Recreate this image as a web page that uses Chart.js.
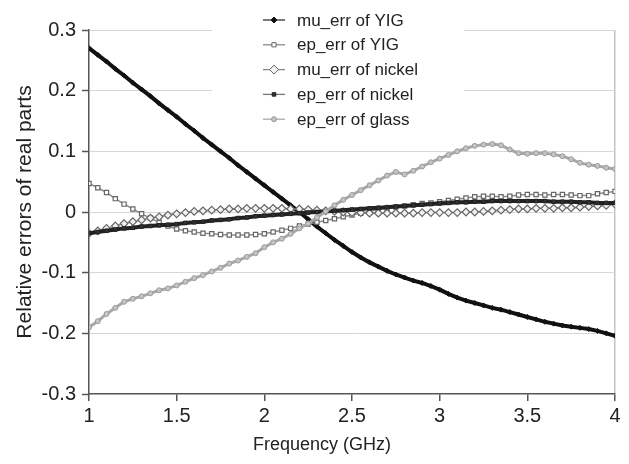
<!DOCTYPE html>
<html>
<head>
<meta charset="utf-8">
<title>Relative errors of real parts</title>
<script src="https://cdn.jsdelivr.net/npm/chart.js@4.4.1/dist/chart.umd.min.js"></script>
<style>
  html, body { margin: 0; padding: 0; background: #fff; }
  #wrap { width: 629px; height: 464px; }
</style>
</head>
<body>
<div id="wrap"><canvas id="errChart"></canvas></div>
<script>
// frecuencias (GHz)
const frequency = [
  1.00, 1.05, 1.10, 1.15, 1.20, 1.25, 1.30, 1.35, 1.40, 1.45,
  1.50, 1.55, 1.60, 1.65, 1.70, 1.75, 1.80, 1.85, 1.90, 1.95,
  2.00, 2.05, 2.10, 2.15, 2.20, 2.25, 2.30, 2.35, 2.40, 2.45,
  2.50, 2.55, 2.60, 2.65, 2.70, 2.75, 2.80, 2.85, 2.90, 2.95,
  3.00, 3.05, 3.10, 3.15, 3.20, 3.25, 3.30, 3.35, 3.40, 3.45,
  3.50, 3.55, 3.60, 3.65, 3.70, 3.75, 3.80, 3.85, 3.90, 3.95,
  4.00
];

const muErrYig = [
  0.270, 0.259, 0.248, 0.236, 0.225, 0.213, 0.202, 0.191, 0.179, 0.168,
  0.157, 0.145, 0.134, 0.122, 0.111, 0.100, 0.089, 0.077, 0.066, 0.055,
  0.044, 0.033, 0.022, 0.011, 0.000, -0.012, -0.024, -0.035, -0.046, -0.056,
  -0.066, -0.075, -0.083, -0.090, -0.097, -0.103, -0.108, -0.113, -0.117, -0.122,
  -0.128, -0.135, -0.141, -0.146, -0.150, -0.154, -0.158, -0.161, -0.165, -0.169,
  -0.173, -0.177, -0.181, -0.184, -0.187, -0.189, -0.191, -0.193, -0.196, -0.200,
  -0.204
];

const epErrYig = [
  0.047, 0.040, 0.032, 0.022, 0.013, 0.005, -0.003, -0.010, -0.017, -0.023,
  -0.028, -0.031, -0.033, -0.035, -0.036, -0.037, -0.038, -0.038, -0.038, -0.037,
  -0.036, -0.033, -0.030, -0.027, -0.023, -0.020, -0.017, -0.014, -0.011, -0.008,
  -0.005, -0.002, 0.001, 0.004, 0.006, 0.008, 0.010, 0.012, 0.014, 0.015,
  0.017, 0.019, 0.021, 0.023, 0.025, 0.026, 0.026, 0.025, 0.026, 0.028,
  0.029, 0.029, 0.028, 0.029, 0.029, 0.028, 0.027, 0.027, 0.030, 0.032,
  0.034
];

const muErrNickel = [
  -0.035, -0.031, -0.027, -0.023, -0.019, -0.016, -0.013, -0.010, -0.008, -0.005,
  -0.003, -0.001, 0.001, 0.002, 0.003, 0.004, 0.005, 0.005, 0.006, 0.006,
  0.006, 0.006, 0.006, 0.005, 0.005, 0.004, 0.003, 0.002, 0.001, 0.000,
  -0.001, -0.001, -0.002, -0.002, -0.002, -0.002, -0.002, -0.002, -0.001, -0.001,
  -0.001, -0.001, -0.001, 0.000, 0.000, 0.001, 0.002, 0.003, 0.004, 0.005,
  0.005, 0.006, 0.006, 0.006, 0.007, 0.007, 0.008, 0.009, 0.010, 0.011,
  0.013
];

const epErrNickel = [
  -0.035, -0.033, -0.031, -0.029, -0.027, -0.026, -0.024, -0.023, -0.022, -0.021,
  -0.020, -0.018, -0.017, -0.016, -0.014, -0.013, -0.012, -0.010, -0.009, -0.007,
  -0.006, -0.005, -0.004, -0.003, -0.002, -0.001, 0.000, 0.001, 0.002, 0.003,
  0.004, 0.005, 0.006, 0.007, 0.008, 0.009, 0.010, 0.011, 0.012, 0.013,
  0.014, 0.015, 0.016, 0.016, 0.017, 0.017, 0.018, 0.018, 0.018, 0.018,
  0.018, 0.018, 0.018, 0.017, 0.017, 0.017, 0.016, 0.016, 0.015, 0.015,
  0.015
];

const epErrGlass = [
  -0.190, -0.180, -0.168, -0.158, -0.148, -0.143, -0.139, -0.134, -0.129, -0.126,
  -0.121, -0.115, -0.109, -0.104, -0.098, -0.092, -0.085, -0.080, -0.074, -0.068,
  -0.058, -0.050, -0.044, -0.036, -0.027, -0.019, -0.009, 0.001, 0.011, 0.020,
  0.028, 0.036, 0.044, 0.052, 0.060, 0.066, 0.062, 0.068, 0.075, 0.082,
  0.088, 0.094, 0.100, 0.105, 0.109, 0.111, 0.112, 0.110, 0.103, 0.097,
  0.096, 0.097, 0.097, 0.095, 0.092, 0.087, 0.081, 0.078, 0.076, 0.073,
  0.071
];

const seriesNames = ['mu_err of YIG', 'ep_err of YIG', 'mu_err of nickel', 'ep_err of nickel', 'ep_err of glass'];

const xTickValues = [1, 1.5, 2, 2.5, 3, 3.5, 4];
const xTickLabels = ['1', '1.5', '2', '2.5', '3', '3.5', '4'];
const yTickValues = [-0.3, -0.2, -0.1, 0, 0.1, 0.2, 0.3];
const yTickLabels = ['-0.3', '-0.2', '-0.1', '0', '0.1', '0.2', '0.3'];
const xAxisTitle = 'Frequency (GHz)';

const FONT = "'Liberation Sans', Arial, sans-serif";

function toPoints(values) {
    return frequency.map((f, i) => ({ x: f, y: values[i] }));
}

// Leyenda dentro del área y título del eje X centrado en la figura
const legendBoxPlugin = {
    id: 'legendBox',
    beforeDatasetsDraw(chart) {
        const ctx = chart.ctx;
        ctx.save();
        ctx.fillStyle = '#ffffff';
        ctx.fillRect(212, 0, 252, 134);
        ctx.restore();
    },
    afterDatasetsDraw(chart) {
        const ctx = chart.ctx;
        ctx.save();
        chart.data.datasets.forEach((ds, i) => {
            const y = 20 + i * 24.8;
            ctx.strokeStyle = ds.legendLine;
            ctx.lineWidth = 1.3;
            ctx.beginPath();
            ctx.moveTo(263, y);
            ctx.lineTo(285, y);
            ctx.stroke();
            ctx.fillStyle = ds.pointBackgroundColor;
            ctx.strokeStyle = ds.pointBorderColor;
            ctx.lineWidth = 1;
            Chart.helpers.drawPoint(ctx, {
                pointStyle: ds.pointStyle,
                radius: ds.legendRadius,
                rotation: 0,
                borderWidth: 1
            }, 274, y);
            ctx.fillStyle = '#222';
            ctx.font = '17px ' + FONT;
            ctx.textBaseline = 'middle';
            ctx.textAlign = 'left';
            ctx.fillText(ds.label, 297, y + 1);
        });
        // título del eje X
        ctx.fillStyle = '#222';
        ctx.font = '18px ' + FONT;
        ctx.textAlign = 'center';
        ctx.textBaseline = 'middle';
        ctx.fillText(xAxisTitle, 322, 445);
        ctx.restore();
    }
};

const chart = new Chart(document.getElementById('errChart'), {
    type: 'line',
    data: {
        datasets: [
            {
                label: seriesNames[0],
                data: toPoints(muErrYig),
                borderColor: '#111',
                borderWidth: 4,
                pointStyle: 'rectRot',
                pointRadius: 2.5,
                pointBackgroundColor: '#111',
                pointBorderColor: '#111',
                pointBorderWidth: 1,
                legendLine: '#333',
                legendRadius: 3,
                order: 4
            },
            {
                label: seriesNames[1],
                data: toPoints(epErrYig),
                borderColor: '#8a8a8a',
                borderWidth: 1.5,
                pointStyle: 'rect',
                pointRadius: 3,
                pointBackgroundColor: '#fff',
                pointBorderColor: '#666',
                pointBorderWidth: 1.2,
                legendLine: '#8a8a8a',
                legendRadius: 3,
                order: 3
            },
            {
                label: seriesNames[2],
                data: toPoints(muErrNickel),
                borderColor: '#8a8a8a',
                borderWidth: 1.5,
                pointStyle: 'rectRot',
                pointRadius: 3.8,
                pointBackgroundColor: '#f2f2f2',
                pointBorderColor: '#666',
                pointBorderWidth: 1.2,
                legendLine: '#8a8a8a',
                legendRadius: 4.5,
                order: 2
            },
            {
                label: seriesNames[3],
                data: toPoints(epErrNickel),
                borderColor: '#222',
                borderWidth: 4,
                pointStyle: 'rect',
                pointRadius: 2.5,
                pointBackgroundColor: '#333',
                pointBorderColor: '#222',
                pointBorderWidth: 1,
                legendLine: '#777',
                legendRadius: 2.5,
                order: 1
            },
            {
                label: seriesNames[4],
                data: toPoints(epErrGlass),
                borderColor: '#a8a8a8',
                borderWidth: 3,
                pointStyle: 'circle',
                pointRadius: 2.5,
                pointBackgroundColor: '#c4c4c4',
                pointBorderColor: '#9a9a9a',
                pointBorderWidth: 1,
                legendLine: '#aaa',
                legendRadius: 2.5,
                order: 0
            }
        ]
    },
    options: {
        responsive: true,
        maintainAspectRatio: false,
        animation: false,
        layout: {
            padding: { top: 30, right: 14, left: 0, bottom: 0 }
        },
        elements: {
            line: { tension: 0 }
        },
        plugins: {
            legend: { display: false },
            tooltip: { enabled: false }
        },
        scales: {
            x: {
                type: 'linear',
                min: 1,
                max: 4,
                afterBuildTicks: function(scale) {
                    scale.ticks = xTickValues.map(v => ({ value: v }));
                },
                afterFit: function(scale) {
                    scale.height = 70;
                },
                border: { color: '#555', width: 1.5 },
                grid: {
                    drawOnChartArea: true,
                    color: function(c) {
                        return c.index === xTickValues.length - 1 ? '#c4c4c4' : 'rgba(0,0,0,0)';
                    },
                    lineWidth: 1.5,
                    tickColor: '#555',
                    tickLength: 7
                },
                ticks: {
                    autoSkip: false,
                    maxRotation: 0,
                    padding: 3,
                    color: '#222',
                    font: { family: FONT, size: 20 },
                    callback: function(value, index) {
                        return xTickLabels[index];
                    }
                }
            },
            y: {
                type: 'linear',
                min: -0.3,
                max: 0.3,
                afterBuildTicks: function(scale) {
                    scale.ticks = yTickValues.map(v => ({ value: v }));
                },
                afterFit: function(scale) {
                    scale.width = 89;
                },
                border: { color: '#555', width: 1.5 },
                grid: {
                    color: function(c) {
                        return c.index === 0 ? 'rgba(0,0,0,0)' : '#d6d6d6';
                    },
                    lineWidth: 1,
                    tickColor: '#555',
                    tickWidth: 1.5,
                    tickLength: 7
                },
                ticks: {
                    padding: 6,
                    color: '#222',
                    font: { family: FONT, size: 20 },
                    callback: function(value, index) {
                        return yTickLabels[index];
                    }
                },
                title: {
                    display: true,
                    text: 'Relative errors of real parts',
                    color: '#222',
                    font: { family: FONT, size: 21 },
                    padding: { top: 13, bottom: 0 }
                }
            }
        }
    },
    plugins: [legendBoxPlugin]
});
</script>
</body>
</html>
